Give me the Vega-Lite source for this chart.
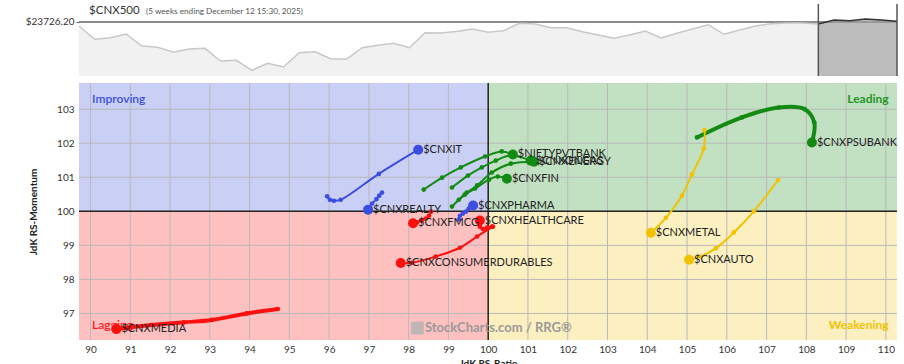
{
  "$schema": "https://vega.github.io/schema/vega-lite/v6.json",
  "padding": {"left": 25, "top": 3, "right": 0, "bottom": 0},
  "background": "white",
  "spacing": 5,
  "config": {"view": {"stroke": null}, "font": "Lato"},
  "datasets": {
    "price": [
      {"w":0,"p":23659},{"w":1,"p":23438},{"w":2,"p":23464},{"w":3,"p":23526},{"w":4,"p":23326},{"w":5,"p":23304},{"w":6,"p":23221},{"w":7,"p":23276},{"w":8,"p":23287},{"w":9,"p":23076},{"w":10,"p":23087},{"w":11,"p":22921},{"w":12,"p":23037},{"w":13,"p":22976},{"w":14,"p":23214},{"w":15,"p":23231},{"w":16,"p":23114},{"w":17,"p":23104},{"w":18,"p":23297},{"w":19,"p":23337},{"w":20,"p":23371},{"w":21,"p":23297},{"w":22,"p":23548},{"w":23,"p":23543},{"w":24,"p":23568},{"w":25,"p":23609},{"w":26,"p":23554},{"w":27,"p":23581},{"w":28,"p":23704},{"w":29,"p":23693},{"w":30,"p":23631},{"w":31,"p":23631},{"w":32,"p":23564},{"w":33,"p":23509},{"w":34,"p":23454},{"w":35,"p":23509},{"w":36,"p":23576},{"w":37,"p":23459},{"w":38,"p":23538},{"w":39,"p":23609},{"w":40,"p":23681},{"w":41,"p":23521},{"w":42,"p":23593},{"w":43,"p":23659},{"w":44,"p":23698},{"w":45,"p":23709},{"w":46,"p":23709},{"w":47,"p":23693},{"w":48,"p":23759},{"w":49,"p":23748},{"w":50,"p":23776},{"w":51,"p":23759},{"w":52,"p":23740}
    ],
    "quads": [
      {"q":"Improving","x1":89.71,"x2":100,"y1":100,"y2":103.77},
      {"q":"Leading","x1":100,"x2":110.28,"y1":100,"y2":103.77},
      {"q":"Lagging","x1":89.71,"x2":100,"y1":96.22,"y2":100},
      {"q":"Weakening","x1":100,"x2":110.28,"y1":96.22,"y2":100}
    ],
    "gridx": [{"g":90},{"g":91},{"g":92},{"g":93},{"g":94},{"g":95},{"g":96},{"g":97},{"g":98},{"g":99},{"g":101},{"g":102},{"g":103},{"g":104},{"g":105},{"g":106},{"g":107},{"g":108},{"g":109},{"g":110}],
    "gridy": [{"g":97},{"g":98},{"g":99},{"g":101},{"g":102},{"g":103}],
    "qlabels": [
      {"text":"Improving","q":"Improving","x":90.04,"y":103.29,"side":"left"},
      {"text":"Lagging","q":"Lagging","x":90.04,"y":96.67,"side":"left"},
      {"text":"Leading","q":"Leading","x":110.07,"y":103.29,"side":"right"},
      {"text":"Weakening","q":"Weakening","x":110.07,"y":96.67,"side":"right"}
    ],
    "tails": [
      {"name":"$CNXIT","q":"Improving","t":0,"x":95.95,"y":100.44},{"name":"$CNXIT","q":"Improving","t":1,"x":96.02,"y":100.34},{"name":"$CNXIT","q":"Improving","t":2,"x":96.12,"y":100.31},{"name":"$CNXIT","q":"Improving","t":3,"x":96.29,"y":100.34},{"name":"$CNXIT","q":"Improving","t":4,"x":97.25,"y":101.10},{"name":"$CNXIT","q":"Improving","t":5,"x":98.24,"y":101.81},
      {"name":"$CNXREALTY","q":"Improving","t":0,"x":97.33,"y":100.55},{"name":"$CNXREALTY","q":"Improving","t":1,"x":97.26,"y":100.46},{"name":"$CNXREALTY","q":"Improving","t":2,"x":97.19,"y":100.36},{"name":"$CNXREALTY","q":"Improving","t":3,"x":97.08,"y":100.23},{"name":"$CNXREALTY","q":"Improving","t":4,"x":97.00,"y":100.12},{"name":"$CNXREALTY","q":"Improving","t":5,"x":96.98,"y":100.05},
      {"name":"$CNXPHARMA","q":"Improving","t":0,"x":99.26,"y":99.76},{"name":"$CNXPHARMA","q":"Improving","t":1,"x":99.29,"y":99.87},{"name":"$CNXPHARMA","q":"Improving","t":2,"x":99.36,"y":99.93},{"name":"$CNXPHARMA","q":"Improving","t":3,"x":99.44,"y":99.99},{"name":"$CNXPHARMA","q":"Improving","t":4,"x":99.51,"y":100.08},{"name":"$CNXPHARMA","q":"Improving","t":5,"x":99.62,"y":100.17},
      {"name":"$NIFTYPVTBANK","q":"Leading","t":0,"x":98.38,"y":100.64},{"name":"$NIFTYPVTBANK","q":"Leading","t":1,"x":98.84,"y":100.99},{"name":"$NIFTYPVTBANK","q":"Leading","t":2,"x":99.31,"y":101.29},{"name":"$NIFTYPVTBANK","q":"Leading","t":3,"x":99.92,"y":101.61},{"name":"$NIFTYPVTBANK","q":"Leading","t":4,"x":100.34,"y":101.76},{"name":"$NIFTYPVTBANK","q":"Leading","t":5,"x":100.62,"y":101.67},
      {"name":"$CNXOILGAS","q":"Leading","t":0,"x":99.09,"y":100.70},{"name":"$CNXOILGAS","q":"Leading","t":1,"x":99.49,"y":101.05},{"name":"$CNXOILGAS","q":"Leading","t":2,"x":99.84,"y":101.29},{"name":"$CNXOILGAS","q":"Leading","t":3,"x":100.19,"y":101.49},{"name":"$CNXOILGAS","q":"Leading","t":4,"x":100.57,"y":101.64},{"name":"$CNXOILGAS","q":"Leading","t":5,"x":101.07,"y":101.49},
      {"name":"$CNXENERGY","q":"Leading","t":0,"x":99.26,"y":100.34},{"name":"$CNXENERGY","q":"Leading","t":1,"x":99.46,"y":100.55},{"name":"$CNXENERGY","q":"Leading","t":2,"x":99.72,"y":100.76},{"name":"$CNXENERGY","q":"Leading","t":3,"x":100.09,"y":101.14},{"name":"$CNXENERGY","q":"Leading","t":4,"x":100.57,"y":101.40},{"name":"$CNXENERGY","q":"Leading","t":5,"x":101.15,"y":101.46},
      {"name":"$CNXFIN","q":"Leading","t":0,"x":99.09,"y":100.14},{"name":"$CNXFIN","q":"Leading","t":1,"x":99.41,"y":100.49},{"name":"$CNXFIN","q":"Leading","t":2,"x":99.67,"y":100.67},{"name":"$CNXFIN","q":"Leading","t":3,"x":100.02,"y":100.93},{"name":"$CNXFIN","q":"Leading","t":4,"x":100.24,"y":101.02},{"name":"$CNXFIN","q":"Leading","t":5,"x":100.47,"y":100.96},
      {"name":"$CNXPSUBANK","q":"Leading","t":0,"x":105.25,"y":102.17},{"name":"$CNXPSUBANK","q":"Leading","t":1,"x":106.38,"y":102.76},{"name":"$CNXPSUBANK","q":"Leading","t":2,"x":107.31,"y":103.05},{"name":"$CNXPSUBANK","q":"Leading","t":3,"x":107.96,"y":103.0},{"name":"$CNXPSUBANK","q":"Leading","t":4,"x":108.2,"y":102.61},{"name":"$CNXPSUBANK","q":"Leading","t":5,"x":108.14,"y":102.02},
      {"name":"$CNXFMCG","q":"Lagging","t":0,"x":98.56,"y":99.99},{"name":"$CNXFMCG","q":"Lagging","t":1,"x":98.51,"y":99.87},{"name":"$CNXFMCG","q":"Lagging","t":2,"x":98.43,"y":99.79},{"name":"$CNXFMCG","q":"Lagging","t":3,"x":98.33,"y":99.73},{"name":"$CNXFMCG","q":"Lagging","t":4,"x":98.21,"y":99.68},{"name":"$CNXFMCG","q":"Lagging","t":5,"x":98.11,"y":99.65},
      {"name":"$CNXHEALTHCARE","q":"Lagging","t":0,"x":100.09,"y":99.55},{"name":"$CNXHEALTHCARE","q":"Lagging","t":1,"x":99.97,"y":99.52},{"name":"$CNXHEALTHCARE","q":"Lagging","t":2,"x":99.87,"y":99.48},{"name":"$CNXHEALTHCARE","q":"Lagging","t":3,"x":99.79,"y":99.55},{"name":"$CNXHEALTHCARE","q":"Lagging","t":4,"x":99.79,"y":99.64},{"name":"$CNXHEALTHCARE","q":"Lagging","t":5,"x":99.79,"y":99.73},
      {"name":"$CNXCONSUMERDURABLES","q":"Lagging","t":0,"x":100.12,"y":99.55},{"name":"$CNXCONSUMERDURABLES","q":"Lagging","t":1,"x":99.72,"y":99.26},{"name":"$CNXCONSUMERDURABLES","q":"Lagging","t":2,"x":99.29,"y":98.93},{"name":"$CNXCONSUMERDURABLES","q":"Lagging","t":3,"x":98.68,"y":98.67},{"name":"$CNXCONSUMERDURABLES","q":"Lagging","t":4,"x":98.08,"y":98.49},{"name":"$CNXCONSUMERDURABLES","q":"Lagging","t":5,"x":97.80,"y":98.48},
      {"name":"$CNXMEDIA","q":"Lagging","t":0,"x":94.71,"y":97.13},{"name":"$CNXMEDIA","q":"Lagging","t":1,"x":93.93,"y":97.00},{"name":"$CNXMEDIA","q":"Lagging","t":2,"x":93.05,"y":96.81},{"name":"$CNXMEDIA","q":"Lagging","t":3,"x":92.35,"y":96.74},{"name":"$CNXMEDIA","q":"Lagging","t":4,"x":91.52,"y":96.66},{"name":"$CNXMEDIA","q":"Lagging","t":5,"x":90.65,"y":96.54},
      {"name":"$CNXMETAL","q":"Weakening","t":0,"x":105.44,"y":102.39},{"name":"$CNXMETAL","q":"Weakening","t":1,"x":105.42,"y":101.84},{"name":"$CNXMETAL","q":"Weakening","t":2,"x":105.12,"y":101.08},{"name":"$CNXMETAL","q":"Weakening","t":3,"x":104.87,"y":100.46},{"name":"$CNXMETAL","q":"Weakening","t":4,"x":104.47,"y":99.81},{"name":"$CNXMETAL","q":"Weakening","t":5,"x":104.09,"y":99.37},
      {"name":"$CNXAUTO","q":"Weakening","t":0,"x":107.29,"y":100.92},{"name":"$CNXAUTO","q":"Weakening","t":1,"x":106.68,"y":100.00},{"name":"$CNXAUTO","q":"Weakening","t":2,"x":106.18,"y":99.38},{"name":"$CNXAUTO","q":"Weakening","t":3,"x":105.72,"y":98.91},{"name":"$CNXAUTO","q":"Weakening","t":4,"x":105.34,"y":98.67},{"name":"$CNXAUTO","q":"Weakening","t":5,"x":105.05,"y":98.58}
    ]
  },
  "vconcat": [
    {
      "width": 818,
      "height": 72,
      "encoding": {
        "x": {"type": "quantitative", "scale": {"domain": [0, 52], "nice": false, "zero": false}, "axis": null},
        "y": {"type": "quantitative", "scale": {"domain": [22826, 24026], "nice": false, "zero": false},
          "axis": {"values": [23726.2], "labelExpr": "'$' + format(datum.value, '.2f')", "grid": false, "domain": false, "ticks": true, "tickSize": 3, "tickColor": "#666", "labelFontSize": 10, "labelColor": "#333", "labelPadding": 2, "title": null}}
      },
      "layer": [
        {
          "data": {"values": [{}]},
          "mark": {"type": "rule", "color": "#666", "strokeWidth": 1.5},
          "encoding": {"y": {"datum": 23726.2, "type": "quantitative"}}
        },
        {
          "data": {"name": "price"},
          "transform": [{"filter": "datum.w <= 47"}],
          "mark": {"type": "area", "fill": "#ebebeb", "line": {"color": "#c8c8c8", "strokeWidth": 1.5}},
          "encoding": {"x": {"field": "w", "type": "quantitative"}, "y": {"field": "p", "type": "quantitative"}, "y2": {"datum": 22826}}
        },
        {
          "data": {"name": "price"},
          "transform": [{"filter": "datum.w >= 47"}],
          "mark": {"type": "area", "fill": "#a0a0a0", "line": {"color": "#333", "strokeWidth": 1.5}},
          "encoding": {"x": {"field": "w", "type": "quantitative"}, "y": {"field": "p", "type": "quantitative"}, "y2": {"datum": 22826}}
        },
        {
          "data": {"name": "price"},
          "transform": [{"filter": "datum.w == 47 || datum.w == 52"}],
          "mark": {"type": "rule", "color": "#555", "strokeWidth": 1.5},
          "encoding": {"x": {"field": "w", "type": "quantitative"}}
        },
        {
          "data": {"values": [{}]},
          "mark": {"type": "text", "text": "$CNX500", "align": "left", "baseline": "middle", "fontSize": 11.5, "color": "#333"},
          "encoding": {"x": {"datum": 0.64}, "y": {"datum": 23909}}
        },
        {
          "data": {"values": [{}]},
          "mark": {"type": "text", "text": "(5 weeks ending December 12 15:30, 2025)", "align": "left", "baseline": "middle", "fontSize": 8.2, "color": "#555"},
          "encoding": {"x": {"datum": 4.26}, "y": {"datum": 23900}}
        }
      ]
    },
    {
      "width": 818,
      "height": 257,
      "encoding": {
        "x": {"type": "quantitative", "scale": {"domain": [89.71, 110.28], "nice": false, "zero": false},
          "axis": {"values": [90,91,92,93,94,95,96,97,98,99,100,101,102,103,104,105,106,107,108,109,110], "grid": false, "domain": false, "ticks": false, "labelFontSize": 10, "labelColor": "#333", "labelPadding": 4, "title": "JdK RS-Ratio", "titleFontSize": 10, "titleFontWeight": "bold", "titleColor": "#222", "titlePadding": 4}},
        "y": {"type": "quantitative", "scale": {"domain": [96.22, 103.77], "nice": false, "zero": false},
          "axis": {"values": [97,98,99,100,101,102,103], "grid": false, "domain": false, "ticks": false, "labelFontSize": 10, "labelColor": "#333", "labelPadding": 5, "title": "JdK RS-Momentum", "titleFontSize": 10, "titleFontWeight": "bold", "titleColor": "#222", "titlePadding": 18}}
      },
      "resolve": {"scale": {"color": "independent"}},
      "layer": [
        {
          "data": {"name": "quads"},
          "mark": {"type": "rect"},
          "encoding": {
            "x": {"field": "x1", "type": "quantitative"}, "x2": {"field": "x2"},
            "y": {"field": "y1", "type": "quantitative"}, "y2": {"field": "y2"},
            "color": {"field": "q", "type": "nominal", "scale": {"domain": ["Improving","Leading","Lagging","Weakening"], "range": ["#c9cff5","#c2e0c2","#ffc0c0","#fcf0c0"]}, "legend": null}
          }
        },
        {
          "data": {"name": "gridx"},
          "mark": {"type": "rule", "color": "#b9b9b9", "strokeWidth": 1},
          "encoding": {"x": {"field": "g", "type": "quantitative"}}
        },
        {
          "data": {"name": "gridy"},
          "mark": {"type": "rule", "color": "#b9b9b9", "strokeWidth": 1},
          "encoding": {"y": {"field": "g", "type": "quantitative"}}
        },
        {
          "data": {"values": [{}]},
          "mark": {"type": "rule", "color": "#222", "strokeWidth": 1.5},
          "encoding": {"x": {"datum": 100, "type": "quantitative"}}
        },
        {
          "data": {"values": [{}]},
          "mark": {"type": "rule", "color": "#222", "strokeWidth": 1.5},
          "encoding": {"y": {"datum": 100, "type": "quantitative"}}
        },
        {
          "data": {"name": "qlabels"},
          "transform": [{"filter": "datum.side == 'left'"}],
          "mark": {"type": "text", "align": "left", "baseline": "middle", "fontSize": 12, "fontWeight": 600},
          "encoding": {
            "x": {"field": "x", "type": "quantitative"}, "y": {"field": "y", "type": "quantitative"},
            "text": {"field": "text"},
            "color": {"field": "q", "type": "nominal", "scale": {"domain": ["Improving","Leading","Lagging","Weakening"], "range": ["#3b50df","#1f951f","#ff1a1a","#f2c200"]}, "legend": null}
          }
        },
        {
          "data": {"name": "qlabels"},
          "transform": [{"filter": "datum.side == 'right'"}],
          "mark": {"type": "text", "align": "right", "baseline": "middle", "fontSize": 12, "fontWeight": "bold"},
          "encoding": {
            "x": {"field": "x", "type": "quantitative"}, "y": {"field": "y", "type": "quantitative"},
            "text": {"field": "text"},
            "color": {"field": "q", "type": "nominal", "scale": {"domain": ["Improving","Leading","Lagging","Weakening"], "range": ["#3b50df","#1f951f","#ff1a1a","#f2c200"]}, "legend": null}
          }
        },
        {
          "data": {"values": [{}]},
          "mark": {"type": "square", "filled": true, "size": 160, "color": "#b0b0b0", "opacity": 0.8},
          "encoding": {"x": {"datum": 98.22}, "y": {"datum": 96.57}}
        },
        {
          "data": {"values": [{}]},
          "mark": {"type": "text", "text": "StockCharts.com / RRG®", "align": "left", "baseline": "middle", "fontSize": 13, "fontWeight": "bold", "color": "#9a9a9a"},
          "encoding": {"x": {"datum": 98.41}, "y": {"datum": 96.57}}
        },
        {
          "data": {"name": "tails"},
          "mark": {"type": "line", "interpolate": "catmull-rom"},
          "encoding": {
            "x": {"field": "x", "type": "quantitative"}, "y": {"field": "y", "type": "quantitative"},
            "detail": {"field": "name"},
            "order": {"field": "t"},
            "strokeWidth": {"condition": {"test": "datum.name == '$CNXMEDIA' || datum.name == '$CNXPSUBANK'", "value": 4}, "value": 2},
            "color": {"field": "q", "type": "nominal", "scale": {"domain": ["Improving","Leading","Lagging","Weakening"], "range": ["#3c4ee0","#138a13","#ff1010","#f2c200"]}, "legend": null}
          }
        },
        {
          "data": {"name": "tails"},
          "mark": {"type": "circle", "opacity": 1},
          "encoding": {
            "x": {"field": "x", "type": "quantitative"}, "y": {"field": "y", "type": "quantitative"},
            "size": {"condition": {"test": "datum.t == 5", "value": 100}, "value": 22},
            "color": {"field": "q", "type": "nominal", "scale": {"domain": ["Improving","Leading","Lagging","Weakening"], "range": ["#3c4ee0","#138a13","#ff1010","#f2c200"]}, "legend": null}
          }
        },
        {
          "data": {"name": "tails"},
          "transform": [{"filter": "datum.t == 5"}],
          "mark": {"type": "text", "align": "left", "baseline": "middle", "dx": 5, "fontSize": 11, "color": "#222"},
          "encoding": {
            "x": {"field": "x", "type": "quantitative"}, "y": {"field": "y", "type": "quantitative"},
            "text": {"field": "name"}
          }
        }
      ]
    }
  ]
}
